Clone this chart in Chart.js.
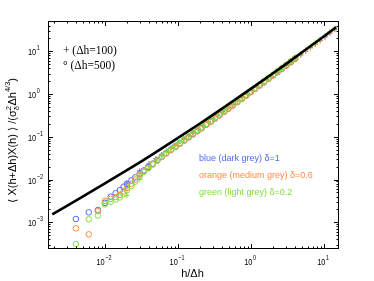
<!DOCTYPE html>
<html>
<head>
<meta charset="utf-8">
<script src="https://cdn.jsdelivr.net/npm/chart.js@4"></script>
<style>
html,body{margin:0;padding:0;background:#fff;}
canvas{display:block;}
</style>
</head>
<body>
<canvas id="c" width="374" height="281"></canvas>
<script>
// ---- data ----
const lineX = [0.0019, 0.004, 0.01, 0.02, 0.03, 0.05, 0.1, 0.2, 0.3, 0.5, 1, 2, 3, 5, 10, 14.6];
const lineY = [1.535e-3, 3.228e-3, 8.13e-3, 0.01648, 0.02518, 0.04355, 0.09419, 0.2046, 0.3258, 0.5929, 1.334, 3.055, 5.012, 9.44, 22.39, 36.31];

// circles: Δh = 500
const circleX = [0.004,0.006,0.008,0.010,0.012,0.014,0.016,0.018,0.020,0.023,0.026,0.030,0.034,0.039,0.045,0.052,0.060,0.069,0.080,0.092,0.106,0.122,0.14,0.16,0.185,0.21,0.245,0.28,0.32,0.37,0.43,0.49,0.56,0.65,0.75,0.86,0.99,1.14,1.31,1.5,1.73,2.0,2.3,2.64,3.04,3.5,4.0];
const blueCircles = [1.191e-3,1.710e-3,1.936e-3,2.851e-3,3.981e-3,4.786e-3,5.623e-3,6.761e-3,7.943e-3,9.550e-3,0.01122,0.01380,0.01628,0.01945,0.02342,0.02831,0.03436,0.04150,0.04975,0.05890,0.06995,0.08306,0.09822,0.1156,0.1380,0.1610,0.1945,0.2290,0.2700,0.3236,0.3903,0.4592,0.5436,0.6569,0.7880,0.9371,1.120,1.342,1.603,1.906,2.288,2.754,3.289,3.918,4.692,5.627,6.683];
const orangeCircles = [7.21e-4,5.22e-4,1.820e-3,3.162e-3,3.548e-3,3.890e-3,4.365e-3,5.248e-3,6.310e-3,7.943e-3,0.01,0.01318,0.01555,0.01879,0.02289,0.02767,0.03358,0.04056,0.04862,0.05756,0.06836,0.08117,0.09598,0.1129,0.1349,0.1574,0.1901,0.2238,0.2638,0.3162,0.3814,0.4487,0.5312,0.6420,0.7701,0.9158,1.095,1.312,1.567,1.863,2.236,2.692,3.214,3.829,4.585,5.499,6.531];
const greenCircles = [3.09e-4,1.175e-3,1.445e-3,2.630e-3,3.020e-3,3.388e-3,3.802e-3,4.571e-3,5.623e-3,7.079e-3,8.913e-3,0.01202,0.01502,0.01816,0.02237,0.02767,0.03436,0.04198,0.05091,0.06097,0.07240,0.08598,0.1017,0.1197,0.1429,0.1667,0.2013,0.2370,0.2794,0.3349,0.4041,0.4753,0.5627,0.6800,0.8157,0.9701,1.160,1.389,1.660,1.973,2.368,2.851,3.405,4.056,4.858,5.824,6.918];

// crosses: Δh = 100
const crossX = [0.02,0.03,0.04,0.05,0.06,0.07,0.08,0.09,0.1,0.12,0.14,0.16,0.19,0.22,0.26,0.3,0.35,0.41,0.48,0.56,0.65,0.76,0.89,1.04,1.21,1.41,1.64,1.91,2.23,2.6,3.03,3.53,4.11,4.79,5.58,6.5,7.57,8.82,10.3,12.0,14.0];
const blueCross = [8.26e-3,0.01589,0.02317,0.03083,0.03865,0.04695,0.05497,0.0631,0.07145,0.08872,0.1065,0.1248,0.1530,0.1822,0.2227,0.2641,0.3190,0.3870,0.4689,0.5673,0.6819,0.8272,1.005,1.219,1.473,1.782,2.150,2.601,3.157,3.827,4.639,5.636,6.834,8.288,10.05,12.19,14.78,17.92,21.83,26.69,32.6];
const orangeCross = [6.56e-3,0.01384,0.02113,0.02877,0.03649,0.04483,0.05311,0.06095,0.06902,0.08630,0.1036,0.1214,0.1489,0.1772,0.2166,0.2569,0.3102,0.3764,0.4561,0.5544,0.6664,0.8084,0.9824,1.191,1.439,1.741,2.102,2.542,3.085,3.740,4.533,5.508,6.679,8.099,9.817,11.91,14.44,17.51,21.33,26.09,31.8];
const greenCross = [4.236e-3,0.01002,0.01841,0.02685,0.03525,0.04381,0.05262,0.06209,0.07145,0.08979,0.1089,0.1287,0.1597,0.1912,0.2347,0.2794,0.3387,0.4124,0.5020,0.6078,0.7307,0.8863,1.077,1.306,1.578,1.909,2.305,2.787,3.383,4.102,4.972,6.039,7.322,8.879,10.76,13.06,15.84,19.20,23.38,28.60,34.9];

// axis ticks (decade exponents) and texts
const xTickExps = [-2, -1, 0, 1];
const yTickExps = [-3, -2, -1, 0, 1];
const xTitle = 'h/\u0394h';
const legendPlus = '+ (\u0394h=100)';
const legendCircle = '\u00b0 (\u0394h=500)';
const seriesNotes = ['blue (dark grey) \u03b4=1', 'orange (medium grey) \u03b4=0.6', 'green (light grey) \u03b4=0.2'];

const BLUE = '#4f6af2', ORANGE = '#ff8a45', GREEN = '#7fe040';

const pts = (xs, ys) => xs.map((x, i) => ({x: x, y: ys[i]}));

function circleSet(label, xs, ys, color, order) {
  return {label, data: pts(xs, ys), showLine: false, pointStyle: 'circle', pointRadius: 2.8,
    pointBorderWidth: 1, borderColor: color, backgroundColor: 'rgba(0,0,0,0)', order};
}
function crossSet(label, xs, ys, color, order) {
  return {label, data: pts(xs, ys), showLine: false, pointStyle: 'cross', pointRadius: 2.6,
    pointBorderWidth: 1, borderColor: color, backgroundColor: color, order};
}

const SX = 0.78; // horizontal condensation of tick labels
function condText(ctx, s, x, y, sx) {
  ctx.save(); ctx.translate(x, y); ctx.scale(sx, 1); ctx.fillText(s, 0, 0); ctx.restore();
}
function expStr(e) { return (e < 0 ? '\u2212' : '') + Math.abs(e); }

const axesPlugin = {
  id: 'axesPlugin',
  afterDatasetsDraw(chart) {
    const ctx = chart.ctx, a = chart.chartArea, xs = chart.scales.x, ys = chart.scales.y;
    ctx.save();
    ctx.strokeStyle = '#000'; ctx.lineWidth = 1;
    ctx.strokeRect(a.left + 0.5, a.top + 0.5, a.right - a.left - 1, a.bottom - a.top - 1);
    // ticks
    ctx.beginPath();
    for (let d = -4; d <= 2; d++) {
      for (let m = 1; m <= 9; m++) {
        const v = m * Math.pow(10, d);
        const len = m === 1 ? 5 : 2.5;
        if (v >= xs.min && v <= xs.max) {
          const px = Math.round(xs.getPixelForValue(v)) + 0.5;
          ctx.moveTo(px, a.bottom); ctx.lineTo(px, a.bottom - len);
          ctx.moveTo(px, a.top); ctx.lineTo(px, a.top + len);
        }
        if (v >= ys.min && v <= ys.max) {
          const py = Math.round(ys.getPixelForValue(v)) + 0.5;
          ctx.moveTo(a.left, py); ctx.lineTo(a.left + len, py);
          ctx.moveTo(a.right, py); ctx.lineTo(a.right - len, py);
        }
      }
    }
    ctx.stroke();
    // tick labels
    ctx.fillStyle = '#000'; ctx.textBaseline = 'alphabetic'; ctx.textAlign = 'left';
    const MAIN = '9.5px "Liberation Sans", Arial, sans-serif';
    const EXPF = '7px "Liberation Sans", Arial, sans-serif';
    xTickExps.forEach(e => {
      const px = xs.getPixelForValue(Math.pow(10, e));
      ctx.font = MAIN; const w1 = ctx.measureText('10').width * SX;
      ctx.font = EXPF; const w2 = ctx.measureText(expStr(e)).width * SX;
      const x0 = px - (w1 + w2 + 0.5) / 2 - 1;
      ctx.font = MAIN; condText(ctx, '10', x0, 264.5, SX);
      ctx.font = EXPF; condText(ctx, expStr(e), x0 + w1 + 0.5, 259.5, SX);
    });
    yTickExps.forEach(e => {
      const py = ys.getPixelForValue(Math.pow(10, e));
      ctx.font = MAIN; const w1 = ctx.measureText('10').width * SX;
      const x0 = 28;
      condText(ctx, '10', x0, py + 4, SX);
      ctx.font = EXPF; condText(ctx, expStr(e), x0 + w1 + 0.5, py - 1, SX);
    });
    // x title
    ctx.font = '11px "Liberation Sans", Arial, sans-serif';
    ctx.textAlign = 'center';
    ctx.fillText(xTitle, (a.left + a.right) / 2 - 1, 276.5);
    // y title (rotated, composed)
    ctx.save();
    ctx.translate(15.5, 140.5);
    ctx.rotate(-Math.PI / 2);
    ctx.textAlign = 'left';
    const F = '11px "Liberation Sans", "DejaVu Sans", Arial, sans-serif';
    const FS = '7.5px "Liberation Sans", "DejaVu Sans", Arial, sans-serif';
    const segs = [
      {t: '\u27e8 X(h+\u0394h)X(h) \u27e9 /(\u03c3', f: F, dy: 0},
      {stack: [{t: '2', f: FS, dy: -5}, {t: '\u03b4', f: FS, dy: 3}]},
      {t: '\u0394h', f: F, dy: 0},
      {t: '4/3', f: FS, dy: -5.5},
      {t: ')', f: F, dy: 0}
    ];
    let W = 0;
    segs.forEach(s => {
      if (s.stack) { s.w = Math.max(...s.stack.map(q => { ctx.font = q.f; return ctx.measureText(q.t).width; })) + 0.5; }
      else { ctx.font = s.f; s.w = ctx.measureText(s.t).width; }
      W += s.w;
    });
    let cx = -W / 2;
    segs.forEach(s => {
      if (s.stack) { s.stack.forEach(q => { ctx.font = q.f; ctx.fillText(q.t, cx, q.dy); }); }
      else { ctx.font = s.f; ctx.fillText(s.t, cx, s.dy); }
      cx += s.w;
    });
    ctx.restore();
    // marker legend (serif)
    ctx.textAlign = 'left'; ctx.textBaseline = 'middle';
    ctx.font = '11.5px "Liberation Serif", "Times New Roman", serif';
    ctx.fillText(legendPlus, 63, 50.5);
    ctx.fillText(legendCircle, 63, 65.5);
    // coloured notes
    ctx.font = '9px "Liberation Sans", Arial, sans-serif';
    const cols = [BLUE, ORANGE, GREEN];
    const ysn = [159, 176, 193];
    seriesNotes.forEach((t, i) => { ctx.fillStyle = cols[i]; ctx.fillText(t, 199, ysn[i]); });
    ctx.restore();
  }
};

new Chart(document.getElementById('c'), {
  type: 'scatter',
  data: {
    datasets: [
      {label: 'model', data: pts(lineX, lineY), showLine: true, pointRadius: 0, borderColor: '#000',
        borderWidth: 2.6, tension: 0, fill: false, order: 0},
      circleSet('green \u0394h=500', circleX, greenCircles, GREEN, 1),
      circleSet('orange \u0394h=500', circleX, orangeCircles, ORANGE, 2),
      circleSet('blue \u0394h=500', circleX, blueCircles, BLUE, 3),
      crossSet('green \u0394h=100', crossX, greenCross, GREEN, 4),
      crossSet('orange \u0394h=100', crossX, orangeCross, ORANGE, 5),
      crossSet('blue \u0394h=100', crossX, blueCross, BLUE, 6)
    ]
  },
  options: {
    responsive: false,
    animation: false,
    devicePixelRatio: 1,
    layout: {padding: {left: 48, right: 35, top: 21, bottom: 32}},
    plugins: {legend: {display: false}, tooltip: {enabled: false}},
    scales: {
      x: {type: 'logarithmic', min: 0.00166, max: 16, display: false},
      y: {type: 'logarithmic', min: 2.37e-4, max: 51, display: false}
    }
  },
  plugins: [axesPlugin]
});
</script>
</body>
</html>
